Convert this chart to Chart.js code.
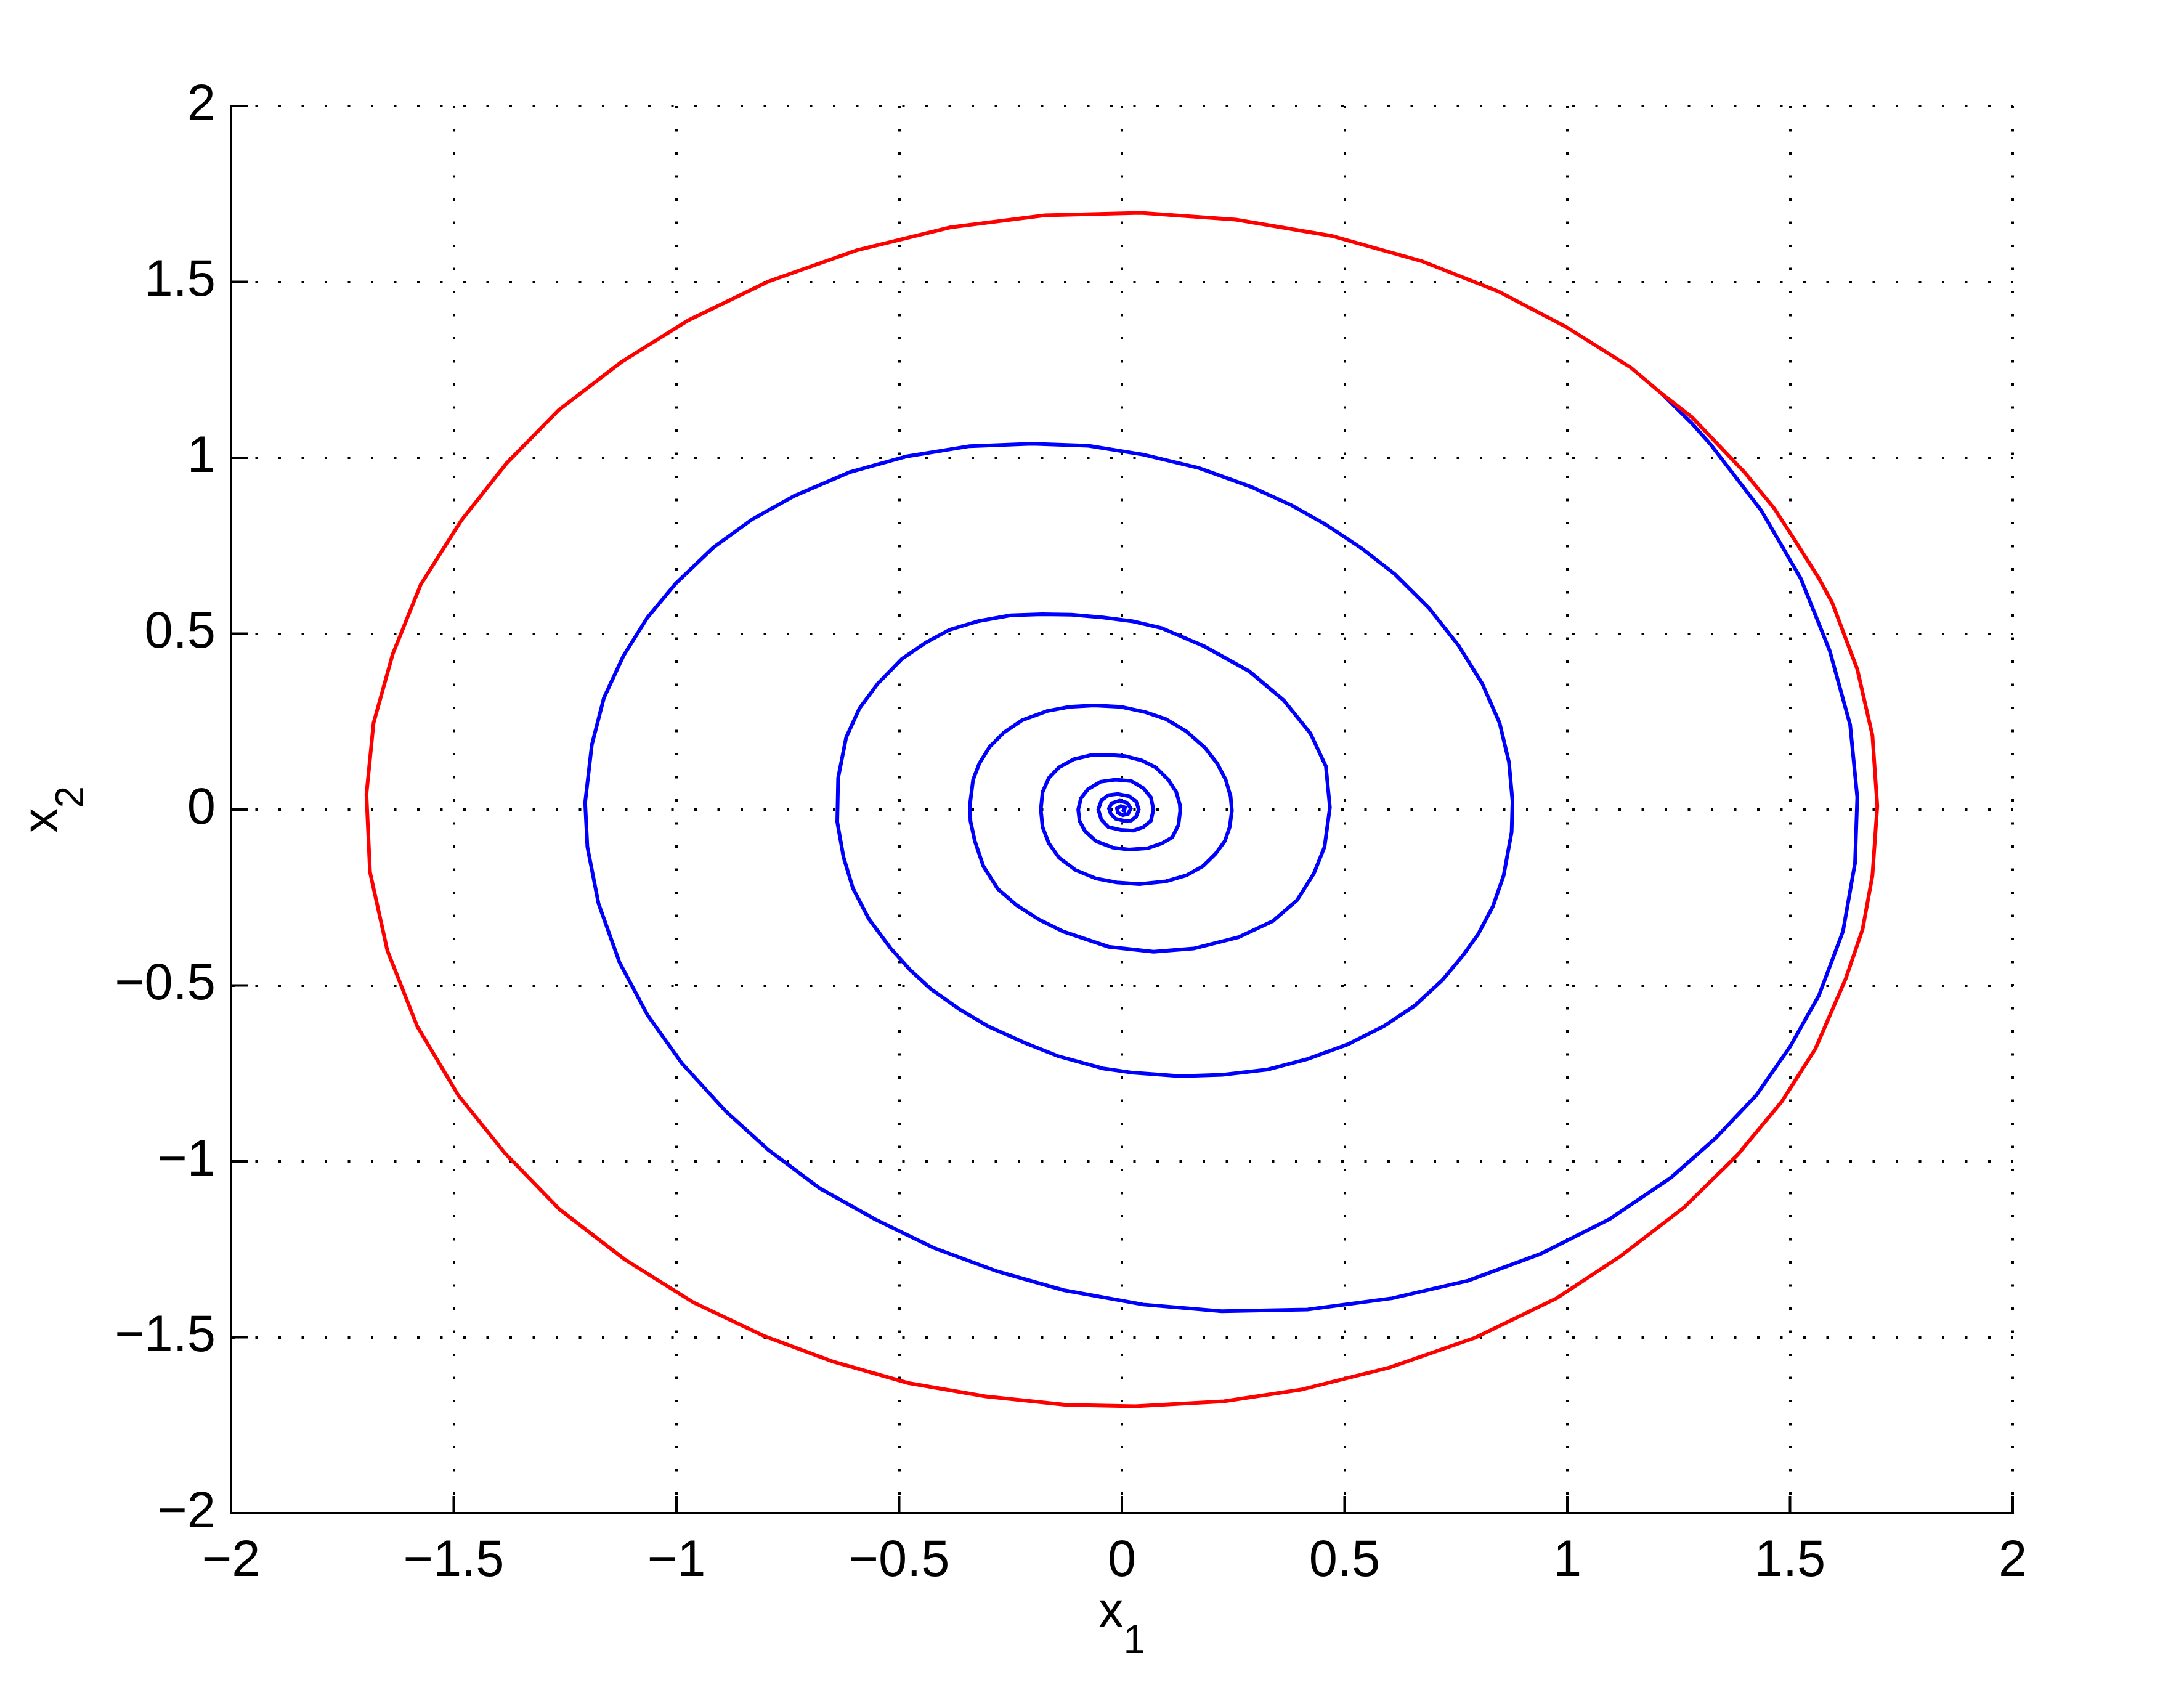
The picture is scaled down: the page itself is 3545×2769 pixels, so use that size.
<!DOCTYPE html>
<html>
<head>
<meta charset="utf-8">
<script src="https://cdn.jsdelivr.net/npm/chart.js@4.4.0/dist/chart.umd.min.js"></script>
<style>
  html, body { margin: 0; padding: 0; background: #fff; }
  canvas { display: block; }
</style>
</head>
<body>
<canvas id="phase" width="3545" height="2769"></canvas>
<script>
// undamped orbit (red), clockwise from the start point
const redX = [1.214, 1.280, 1.399, 1.464, 1.506, 1.565, 1.595, 1.651, 1.685, 1.696,
  1.685, 1.663, 1.625, 1.557, 1.482, 1.382, 1.262, 1.119, 0.976, 0.794,
  0.601, 0.402, 0.229, 0.030, -0.125, -0.306, -0.480, -0.649, -0.804, -0.962,
  -1.117, -1.262, -1.385, -1.490, -1.582, -1.649, -1.688, -1.696, -1.680, -1.637,
  -1.574, -1.483, -1.381, -1.265, -1.125, -0.973, -0.794, -0.595, -0.385, -0.173,
  0.042, 0.256, 0.470, 0.673, 0.845, 0.996, 1.143, 1.214];
const redY = [1.180, 1.115, 0.957, 0.857, 0.775, 0.657, 0.587, 0.399, 0.211, 0.010,
  -0.188, -0.340, -0.481, -0.680, -0.829, -0.982, -1.131, -1.270, -1.389, -1.501,
  -1.586, -1.649, -1.682, -1.696, -1.692, -1.668, -1.630, -1.569, -1.496, -1.401,
  -1.278, -1.137, -0.977, -0.812, -0.616, -0.401, -0.178, 0.043, 0.246, 0.442,
  0.640, 0.822, 0.985, 1.135, 1.271, 1.391, 1.501, 1.590, 1.655, 1.689,
  1.696, 1.677, 1.631, 1.559, 1.473, 1.373, 1.256, 1.180];

// damped spiral (blue), same start point
const blueX = [1.214, 1.280, 1.321, 1.435, 1.524, 1.589, 1.635, 1.651, 1.646, 1.619,
  1.565, 1.500, 1.425, 1.333, 1.232, 1.095, 0.940, 0.777, 0.607, 0.417,
  0.224, 0.048, -0.131, -0.279, -0.422, -0.555, -0.679, -0.794, -0.889, -0.988,
  -1.065, -1.128, -1.175, -1.200, -1.205, -1.190, -1.163, -1.119, -1.065, -1.002,
  -0.917, -0.830, -0.735, -0.611, -0.483, -0.342, -0.202, -0.075, 0.048, 0.173,
  0.289, 0.381, 0.458, 0.539, 0.613, 0.690, 0.756, 0.809, 0.848, 0.869,
  0.877, 0.875, 0.857, 0.833, 0.800, 0.765, 0.720, 0.658, 0.589, 0.506,
  0.417, 0.327, 0.226, 0.131, 0.024, -0.042, -0.143, -0.220, -0.300, -0.363,
  -0.429, -0.476, -0.520, -0.568, -0.604, -0.625, -0.639, -0.637, -0.619, -0.589,
  -0.548, -0.494, -0.440, -0.387, -0.321, -0.250, -0.179, -0.113, -0.042, 0.025,
  0.089, 0.185, 0.286, 0.363, 0.423, 0.458, 0.467, 0.455, 0.431, 0.393,
  0.339, 0.262, 0.161, 0.071, -0.030, -0.131, -0.187, -0.237, -0.279, -0.311,
  -0.330, -0.340, -0.341, -0.334, -0.320, -0.297, -0.265, -0.224, -0.168, -0.118,
  -0.062, -0.002, 0.053, 0.099, 0.145, 0.187, 0.214, 0.233, 0.244, 0.247,
  0.242, 0.231, 0.210, 0.182, 0.145, 0.099, 0.039, -0.012, -0.058, -0.104,
  -0.141, -0.164, -0.178, -0.182, -0.178, -0.164, -0.141, -0.108, -0.071, -0.035,
  0.007, 0.044, 0.076, 0.104, 0.122, 0.130, 0.131, 0.127, 0.113, 0.090,
  0.058, 0.016, -0.021, -0.058, -0.083, -0.095, -0.098, -0.092, -0.076, -0.048,
  -0.014, 0.021, 0.048, 0.065, 0.071, 0.065, 0.048, 0.025, -0.002, -0.030,
  -0.046, -0.053, -0.046, -0.030, -0.009, 0.016, 0.032, 0.038, 0.032, 0.021,
  0.005, -0.014, -0.025, -0.029, -0.023, -0.005, 0.012, 0.020, 0.014, 0.002,
  -0.009, -0.011, -0.002, 0.007, 0.005, 0.000];
const blueY = [1.180, 1.097, 1.039, 0.851, 0.657, 0.452, 0.241, 0.035, -0.152, -0.346,
  -0.528, -0.674, -0.811, -0.934, -1.047, -1.164, -1.263, -1.339, -1.389, -1.421,
  -1.426, -1.407, -1.366, -1.313, -1.246, -1.164, -1.076, -0.967, -0.858, -0.721,
  -0.584, -0.434, -0.267, -0.106, 0.020, 0.184, 0.317, 0.437, 0.546, 0.642,
  0.745, 0.825, 0.892, 0.959, 1.004, 1.033, 1.040, 1.034, 1.009, 0.971,
  0.918, 0.865, 0.810, 0.742, 0.669, 0.572, 0.466, 0.358, 0.246, 0.135,
  0.023, -0.064, -0.188, -0.275, -0.354, -0.416, -0.484, -0.557, -0.615, -0.668,
  -0.709, -0.739, -0.754, -0.758, -0.748, -0.736, -0.701, -0.662, -0.616, -0.569,
  -0.510, -0.455, -0.393, -0.311, -0.223, -0.135, -0.035, 0.090, 0.205, 0.288,
  0.358, 0.428, 0.475, 0.511, 0.536, 0.552, 0.555, 0.554, 0.546, 0.535,
  0.516, 0.464, 0.393, 0.311, 0.217, 0.123, 0.006, -0.106, -0.182, -0.258,
  -0.317, -0.363, -0.395, -0.404, -0.390, -0.347, -0.312, -0.271, -0.225, -0.161,
  -0.090, -0.032, 0.015, 0.085, 0.131, 0.178, 0.219, 0.254, 0.280, 0.292,
  0.296, 0.292, 0.277, 0.257, 0.222, 0.175, 0.131, 0.085, 0.038, -0.003,
  -0.050, -0.090, -0.126, -0.161, -0.187, -0.204, -0.212, -0.207, -0.196, -0.172,
  -0.137, -0.096, -0.050, 0.000, 0.050, 0.090, 0.120, 0.143, 0.154, 0.156,
  0.152, 0.140, 0.120, 0.085, 0.050, 0.015, -0.003, -0.044, -0.079, -0.096,
  -0.110, -0.114, -0.108, -0.090, -0.061, -0.032, 0.000, 0.032, 0.058, 0.079,
  0.085, 0.081, 0.061, 0.035, 0.000, -0.032, -0.050, -0.060, -0.058, -0.050,
  -0.029, 0.000, 0.026, 0.041, 0.044, 0.038, 0.023, 0.000, -0.020, -0.031,
  -0.032, -0.026, -0.012, 0.003, 0.018, 0.025, 0.019, 0.003, -0.012, -0.016,
  -0.009, 0.003, 0.010, 0.006, -0.003, 0.000];

const axisMin = -2;
const axisMax = 2;
const tickStep = 0.5;

const FONT = 'Liberation Sans';
const toPoints = (xs, ys) => xs.map((x, i) => ({x: x, y: ys[i]}));
const minusSign = v => String(v).replace('-', '\u2212');

// matlab style: ticks pointing into the plot, subscripted axis labels
const axisDecor = {
  id: 'axisDecor',
  afterDraw(chart) {
    const ctx = chart.ctx;
    const area = chart.chartArea;
    const xs = chart.scales.x;
    const ys = chart.scales.y;
    const tickLen = 28;

    ctx.save();
    ctx.strokeStyle = '#000';
    ctx.lineWidth = 4;
    ctx.beginPath();
    xs.ticks.forEach(t => {
      const px = xs.getPixelForValue(t.value);
      ctx.moveTo(px, area.bottom);
      ctx.lineTo(px, area.bottom - tickLen);
    });
    ys.ticks.forEach(t => {
      const py = ys.getPixelForValue(t.value);
      ctx.moveTo(area.left, py);
      ctx.lineTo(area.left + tickLen, py);
    });
    ctx.stroke();

    ctx.fillStyle = '#000';
    ctx.textBaseline = 'alphabetic';
    ctx.textAlign = 'left';
    const mainFont = '81px "' + FONT + '"';
    const subFont = '64px "' + FONT + '"';

    function subLabel(base, sub) {
      ctx.font = mainFont;
      const w1 = ctx.measureText(base).width;
      ctx.font = subFont;
      const w2 = ctx.measureText(sub).width;
      const x0 = -(w1 + w2) / 2;
      ctx.font = mainFont;
      ctx.fillText(base, x0, 0);
      ctx.font = subFont;
      ctx.fillText(sub, x0 + w1, 42);
    }

    ctx.save();
    ctx.translate((area.left + area.right) / 2, area.bottom + 185);
    subLabel('x', '1');
    ctx.restore();

    ctx.save();
    ctx.translate(area.left - 282, (area.top + area.bottom) / 2);
    ctx.rotate(-Math.PI / 2);
    subLabel('x', '2');
    ctx.restore();

    ctx.restore();
  }
};

const tickFont = {family: FONT, size: 83};

new Chart(document.getElementById('phase'), {
  type: 'scatter',
  data: {
    datasets: [
      {
        label: 'undamped',
        data: toPoints(redX, redY),
        showLine: true,
        borderColor: 'rgb(255, 0, 0)',
        borderWidth: 6,
        pointRadius: 0,
        fill: false
      },
      {
        label: 'damped',
        data: toPoints(blueX, blueY),
        showLine: true,
        borderColor: 'rgb(0, 0, 255)',
        borderWidth: 6,
        pointRadius: 0,
        fill: false
      }
    ]
  },
  options: {
    responsive: false,
    animation: false,
    devicePixelRatio: 1,
    layout: {padding: {left: 0, top: 172, right: 278, bottom: 0}},
    plugins: {
      legend: {display: false},
      tooltip: {enabled: false}
    },
    scales: {
      x: {
        type: 'linear',
        min: axisMin,
        max: axisMax,
        afterFit: s => { s.height = 313; },
        ticks: {
          stepSize: tickStep,
          color: '#000',
          font: tickFont,
          padding: 29,
          maxRotation: 0,
          callback: minusSign
        },
        grid: {color: '#000', lineWidth: 4, drawTicks: false},
        border: {display: true, color: '#000', width: 4, dash: [4, 33.5]}
      },
      y: {
        type: 'linear',
        min: axisMin,
        max: axisMax,
        afterFit: s => { s.width = 375; },
        ticks: {
          stepSize: tickStep,
          color: '#000',
          font: tickFont,
          padding: 25,
          callback: minusSign
        },
        grid: {color: '#000', lineWidth: 4, drawTicks: false},
        border: {display: true, color: '#000', width: 4, dash: [4, 33.5]}
      }
    }
  },
  plugins: [axisDecor]
});
</script>
</body>
</html>
